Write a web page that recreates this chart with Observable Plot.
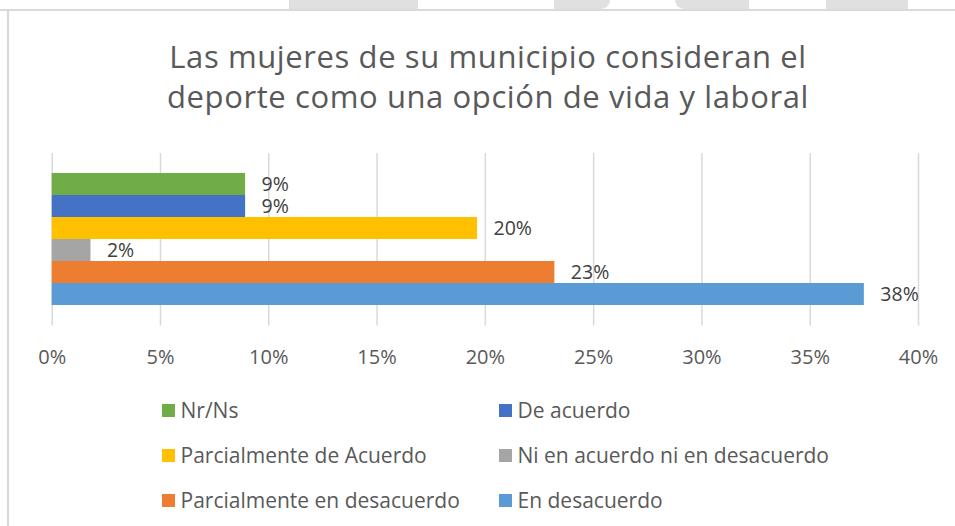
<!DOCTYPE html>
<html>
<head>
<meta charset="utf-8">
<script src="https://cdn.jsdelivr.net/npm/d3@7"></script>
<script src="https://cdn.jsdelivr.net/npm/@observablehq/plot@0.6"></script>
<style>
  html, body { margin: 0; padding: 0; background: #fff; }
  #wrap { position: relative; width: 955px; height: 526px; overflow: hidden; background: #fff; font-family: "Open Sans", Lato, sans-serif; }
  .wm { position: absolute; top: 0; height: 9px; background: #e0e0e0; }
  #title { position: absolute; left: 21px; width: 934px; top: 0; text-align: center; color: #595959; font-size: 31px; line-height: 40px; letter-spacing: 0.6px; }
  #plot { position: absolute; left: 0; top: 140px; }
  #legend { position: absolute; left: 0; top: 0; width: 955px; height: 526px; pointer-events: none; }
  .lg { position: absolute; display: flex; align-items: center; color: #595959; font-size: 21px; white-space: nowrap; }
  .sw { width: 13px; height: 13px; margin-right: 6px; flex: none; }
</style>
</head>
<body>
<div id="wrap">
  <div class="wm" style="left:289px;width:129px"></div>
  <div class="wm" style="left:554px;width:56px;border-bottom-right-radius:9px"></div>
  <div class="wm" style="left:675px;width:74px;border-bottom-left-radius:9px"></div>
  <div class="wm" style="left:826px;width:82px"></div>
  <div style="position:absolute;left:0;top:9px;width:955px;height:1.5px;background:#d9d9d9"></div>
  <div style="position:absolute;left:7px;top:9px;width:1.5px;height:517px;background:#d9d9d9"></div>
  <div id="title"></div>
  <div id="plot"></div>
  <div id="legend"></div>
</div>
<script>
const titleLines = ["Las mujeres de su municipio consideran el", "deporte como una opción de vida y laboral"];
const categories = ["Nr/Ns", "De acuerdo", "Parcialmente de Acuerdo", "Ni en acuerdo ni en desacuerdo", "Parcialmente en desacuerdo", "En desacuerdo"];
const values = [0.0893, 0.0893, 0.1964, 0.0179, 0.2321, 0.375];
const colors = ["#70AD47", "#4472C4", "#FFC000", "#A5A5A5", "#ED7D31", "#5B9BD5"];
const xTicks = [0, 0.05, 0.10, 0.15, 0.20, 0.25, 0.30, 0.35, 0.40];

const data = categories.map((c, i) => ({category: c, value: values[i]}));

// Title
const t = document.getElementById("title");
t.style.paddingTop = "36px";
t.innerHTML = titleLines.map(l => `<div>${l}</div>`).join("");

// Chart
const chart = Plot.plot({
  width: 955,
  height: 240,
  marginLeft: 51.7,
  marginRight: 37,
  marginTop: 13,
  marginBottom: 54.5,
  style: {fontFamily: "'Open Sans', Lato, sans-serif", background: "transparent"},
  x: {domain: [0, 0.4], label: null},
  y: {domain: categories, range: [32.7, 165.7], padding: 0, axis: null},
  color: {domain: categories, range: colors},
  marks: [
    Plot.ruleX(xTicks, {stroke: "#d9d9d9", strokeWidth: 1.5}),
    Plot.barX(data, {x: "value", y: "category", fill: "category"}),
    Plot.text(data, {x: "value", y: "category", text: d => Math.round(d.value * 100) + "%", dx: 16, textAnchor: "start", fill: "#404040", fontSize: 19.5}),
    Plot.axisX(xTicks, {tickSize: 0, tickPadding: 24, tickFormat: d => Math.round(d * 100) + "%", fontSize: 20, fill: "#595959", label: null})
  ]
});
document.getElementById("plot").appendChild(chart);

// Legend
const lg = document.getElementById("legend");
const colX = [161.5, 498.5];
const rowY = [410, 455, 500];
categories.forEach((c, i) => {
  const el = document.createElement("div");
  el.className = "lg";
  el.style.left = colX[i % 2] + "px";
  el.style.top = (rowY[Math.floor(i / 2)] - 14) + "px";
  el.style.height = "28px";
  el.innerHTML = `<span class="sw" style="background:${colors[i]}"></span><span>${c}</span>`;
  lg.appendChild(el);
});
</script>
</body>
</html>
